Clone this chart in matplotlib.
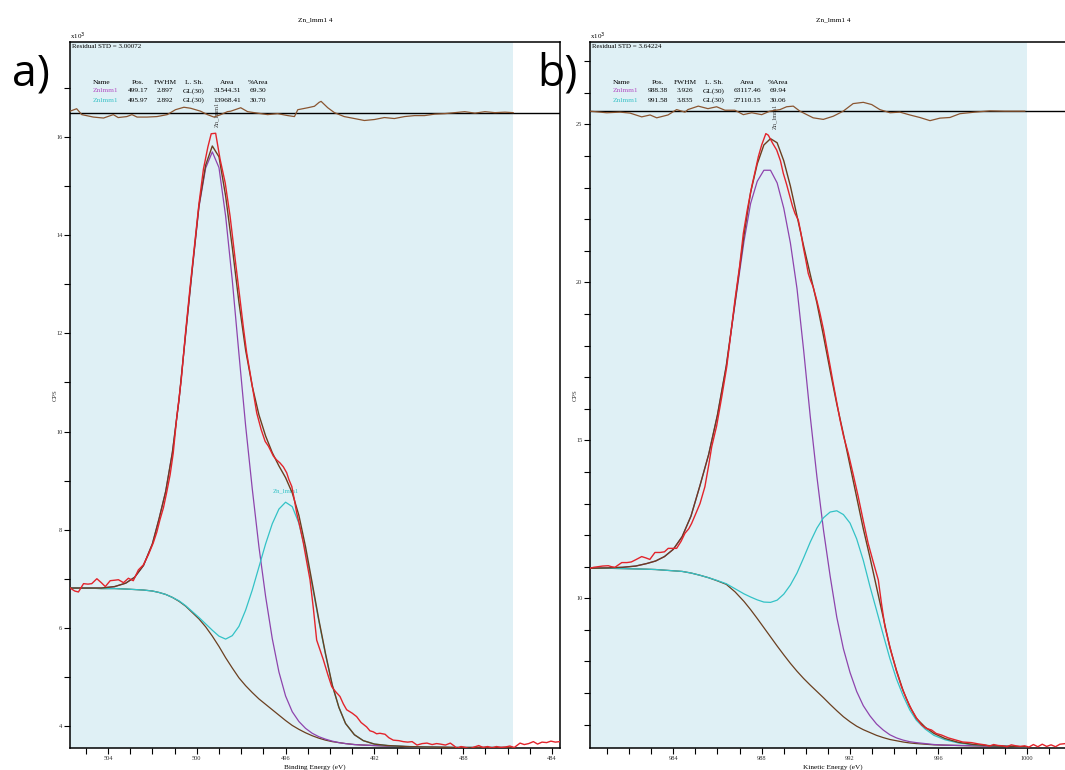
import numpy as np
import matplotlib
matplotlib.use("Agg")
from matplotlib import pyplot as plt
from matplotlib.ticker import MultipleLocator

plt.rcParams['font.family'] = ['Liberation Serif', 'DejaVu Serif']

# ---------------- panel a : binding energy ----------------
be_fit = [505.7, 505.0, 504.3, 503.7, 503.2, 502.8, 502.4, 502.0, 501.7, 501.4,
          501.1, 500.8, 500.5, 500.2, 499.9, 499.6, 499.3, 499.0, 498.7, 498.4,
          498.1, 497.8, 497.5, 497.2, 496.9, 496.6, 496.3, 496.0, 495.7, 495.4,
          495.1, 494.8, 494.5, 494.2, 493.9, 493.6, 493.3, 492.9, 492.5, 492.0,
          491.4, 490.6, 489.6, 488.4, 487.2, 485.8]
bg_a = [6.81, 6.81, 6.80, 6.80, 6.79, 6.78, 6.77, 6.75, 6.72, 6.68,
        6.62, 6.54, 6.44, 6.31, 6.18, 6.02, 5.83, 5.62, 5.39, 5.18,
        4.98, 4.82, 4.68, 4.55, 4.44, 4.33, 4.22, 4.11, 4.01, 3.93,
        3.86, 3.80, 3.75, 3.71, 3.68, 3.66, 3.64, 3.62, 3.61, 3.60,
        3.59, 3.58, 3.57, 3.56, 3.56, 3.56]
comp1_a = [6.81, 6.81, 6.81, 6.84, 6.91, 7.03, 7.27, 7.71, 8.22, 8.78,
           9.57, 10.64, 11.99, 13.31, 14.58, 15.37, 15.70, 15.38, 14.39, 13.08,
           11.58, 10.12, 8.83, 7.65, 6.64, 5.78, 5.10, 4.61, 4.29, 4.09,
           3.95, 3.85, 3.78, 3.73, 3.69, 3.66, 3.64, 3.62, 3.61, 3.60,
           3.59, 3.58, 3.57, 3.56, 3.56, 3.56]
comp2_a = [6.81, 6.81, 6.80, 6.80, 6.79, 6.78, 6.77, 6.75, 6.72, 6.68,
           6.62, 6.55, 6.45, 6.33, 6.21, 6.08, 5.95, 5.83, 5.77, 5.84,
           6.03, 6.36, 6.77, 7.24, 7.71, 8.12, 8.42, 8.56, 8.47, 8.13,
           7.56, 6.86, 6.13, 5.45, 4.83, 4.38, 4.05, 3.82, 3.70, 3.63,
           3.60, 3.58, 3.57, 3.56, 3.56, 3.56]
env_a = [6.81, 6.81, 6.81, 6.84, 6.91, 7.03, 7.27, 7.71, 8.22, 8.78,
         9.57, 10.65, 12.00, 13.33, 14.61, 15.43, 15.82, 15.60, 14.80, 13.75,
         12.63, 11.66, 10.92, 10.34, 9.91, 9.57, 9.30, 9.06, 8.75, 8.29,
         7.65, 6.91, 6.16, 5.47, 4.84, 4.38, 4.05, 3.82, 3.70, 3.63,
         3.60, 3.58, 3.57, 3.56, 3.56, 3.56]

be_data = [505.7, 505.5, 505.33, 505.1, 504.9, 504.73, 504.5, 504.3, 504.12, 503.9,
           503.7, 503.53, 503.3, 503.08, 502.86, 502.63, 502.41, 502.18, 501.96, 501.8,
           501.66, 501.5, 501.36, 501.2, 501.06, 500.9, 500.7, 500.5, 500.3, 500.1,
           499.9, 499.7, 499.5, 499.35, 499.15, 498.95, 498.72, 498.5, 498.27, 498.05,
           497.9, 497.75, 497.6, 497.45, 497.3, 497.1, 496.92, 496.77, 496.55, 496.4,
           496.25, 496.1, 495.95, 495.85, 495.72, 495.6, 495.5, 495.35, 495.2, 495.05,
           494.9, 494.75, 494.6, 494.45, 494.3, 494.1, 493.92, 493.75, 493.55, 493.4,
           493.25, 493.0, 492.8, 492.6, 492.35, 492.2, 492.05, 491.9, 491.75, 491.52,
           491.35, 491.15, 490.9, 490.7, 490.5, 490.3, 490.08, 489.85, 489.63, 489.4,
           489.2, 489.03, 488.8, 488.58, 488.4, 488.28, 488.1, 487.9, 487.7, 487.5,
           487.3, 487.1, 486.9, 486.7, 486.5, 486.3, 486.1, 485.9, 485.7, 485.44,
           485.25, 485.05, 484.84, 484.65, 484.45, 484.24, 484.05, 483.85, 483.65]
cps_a = [6.81, 6.75, 6.73, 6.90, 6.89, 6.90, 7.00, 6.92, 6.84, 6.96,
         6.97, 6.98, 6.92, 7.01, 6.96, 7.18, 7.28, 7.49, 7.73, 7.95,
         8.20, 8.45, 8.75, 9.12, 9.56, 10.30, 11.05, 12.05, 12.95, 13.80,
         14.65, 15.35, 15.80, 16.07, 16.08, 15.55, 15.07, 14.39, 13.51, 12.69,
         12.12, 11.60, 11.20, 10.79, 10.38, 10.04, 9.80, 9.70, 9.50, 9.42,
         9.36, 9.28, 9.16, 9.02, 8.88, 8.60, 8.34, 8.05, 7.73, 7.35,
         6.98, 6.40, 5.75, 5.55, 5.35, 5.05, 4.80, 4.70, 4.60, 4.45,
         4.33, 4.26, 4.19, 4.07, 3.98, 3.90, 3.88, 3.84, 3.85, 3.83,
         3.76, 3.71, 3.70, 3.68, 3.67, 3.68, 3.61, 3.64, 3.65, 3.62,
         3.64, 3.63, 3.61, 3.65, 3.59, 3.54, 3.58, 3.56, 3.53, 3.57,
         3.60, 3.56, 3.58, 3.55, 3.58, 3.56, 3.57, 3.59, 3.56, 3.65,
         3.62, 3.64, 3.68, 3.63, 3.67, 3.66, 3.69, 3.67, 3.68]

res_be = [505.71, 505.41, 505.18, 504.66, 504.2, 503.76, 503.54, 503.15, 502.92, 502.69,
          502.24, 501.79, 501.33, 500.96, 500.58, 500.28, 499.83, 499.52, 499.23, 498.92,
          498.62, 498.47, 498.02, 497.71, 497.26, 496.81, 496.36, 495.9, 495.6, 495.45,
          495.0, 494.7, 494.49, 494.4, 494.1, 493.8, 493.36, 492.9, 492.45, 492.0,
          491.55, 491.1, 490.64, 490.19, 489.74, 489.28, 488.83, 488.38, 487.93, 487.47,
          487.02, 486.57, 486.12, 485.75]
res_a = [0.03, 0.08, -0.04, -0.09, -0.11, -0.04, -0.10, -0.08, -0.04, -0.09,
         -0.09, -0.08, -0.04, 0.06, 0.11, 0.09, 0.03, -0.04, -0.09, -0.04,
         0.02, 0.03, 0.10, 0.02, -0.01, -0.04, -0.02, -0.06, -0.08, 0.06,
         0.10, 0.13, 0.21, 0.23, 0.10, 0.0, -0.08, -0.12, -0.16, -0.14,
         -0.10, -0.12, -0.08, -0.06, -0.06, -0.03, -0.02, 0.0, 0.02, -0.01,
         0.02, 0.0, 0.01, 0.0]

# ---------------- panel b : kinetic energy ----------------
ke_fit = [980.2, 981.0, 981.7, 982.3, 982.8, 983.2, 983.6, 984.0, 984.4, 984.8,
          985.2, 985.6, 986.0, 986.4, 986.8, 987.2, 987.5, 987.8, 988.1, 988.4,
          988.7, 989.0, 989.3, 989.6, 989.9, 990.2, 990.5, 990.8, 991.1, 991.4,
          991.7, 992.0, 992.3, 992.6, 992.9, 993.2, 993.5, 993.8, 994.1, 994.4,
          994.7, 995.0, 995.4, 995.8, 996.3, 996.9, 997.6, 998.4, 999.2, 1000.0]
bg_b = [10.95, 10.95, 10.94, 10.93, 10.92, 10.91, 10.89, 10.87, 10.85, 10.80,
        10.73, 10.65, 10.55, 10.44, 10.20, 9.90, 9.64, 9.36, 9.07, 8.78,
        8.49, 8.21, 7.94, 7.69, 7.46, 7.25, 7.05, 6.85, 6.64, 6.44,
        6.25, 6.09, 5.95, 5.84, 5.75, 5.66, 5.59, 5.53, 5.49, 5.45,
        5.42, 5.40, 5.38, 5.36, 5.35, 5.34, 5.33, 5.32, 5.31, 5.30]
comp1_b = [10.95, 10.96, 10.98, 11.02, 11.10, 11.18, 11.32, 11.55, 11.95, 12.60,
           13.55, 14.55, 15.80, 17.35, 19.35, 21.30, 22.50, 23.20, 23.55, 23.55,
           23.15, 22.35, 21.25, 19.80, 17.85, 15.75, 13.85, 12.15, 10.70, 9.40,
           8.40, 7.65, 7.05, 6.60, 6.28, 6.02, 5.83, 5.68, 5.58, 5.51,
           5.46, 5.43, 5.40, 5.37, 5.35, 5.34, 5.33, 5.32, 5.31, 5.30]
comp2_b = [10.95, 10.95, 10.94, 10.93, 10.92, 10.91, 10.89, 10.87, 10.85, 10.80,
           10.73, 10.65, 10.56, 10.46, 10.30, 10.14, 10.04, 9.95, 9.88, 9.87,
           9.94, 10.13, 10.42, 10.80, 11.28, 11.78, 12.22, 12.55, 12.73, 12.77,
           12.65, 12.38, 11.88, 11.20, 10.38, 9.62, 8.85, 8.10, 7.45, 6.92,
           6.47, 6.14, 5.86, 5.66, 5.52, 5.42, 5.36, 5.33, 5.31, 5.30]
env_b = [10.95, 10.96, 10.98, 11.02, 11.10, 11.18, 11.32, 11.55, 11.95, 12.60,
         13.55, 14.55, 15.81, 17.37, 19.40, 21.50, 22.85, 23.75, 24.35, 24.55,
         24.42, 23.85, 23.05, 22.10, 21.15, 20.25, 19.35, 18.30, 17.20, 16.15,
         15.20, 14.20, 13.20, 12.20, 11.30, 10.35, 9.40, 8.45, 7.72, 7.08,
         6.58, 6.20, 5.92, 5.72, 5.56, 5.44, 5.37, 5.33, 5.31, 5.30]

ke_data = [980.23, 980.4, 980.6, 980.8, 981.06, 981.2, 981.36, 981.5, 981.67, 981.9,
           982.1, 982.3, 982.57, 982.75, 982.94, 983.17, 983.4, 983.6, 983.77, 983.95,
           984.15, 984.35, 984.53, 984.7, 984.83, 985.0, 985.21, 985.43, 985.6, 985.74,
           985.96, 986.2, 986.42, 986.6, 986.79, 987.0, 987.17, 987.35, 987.55, 987.7,
           987.85, 988.0, 988.19, 988.3, 988.5, 988.68, 988.85, 988.98, 989.13, 989.28,
           989.4, 989.51, 989.66, 989.78, 989.88, 990.0, 990.11, 990.22, 990.33, 990.5,
           990.64, 990.8, 990.94, 991.1, 991.24, 991.4, 991.55, 991.7, 991.92, 992.15,
           992.37, 992.6, 992.82, 993.05, 993.28, 993.42, 993.58, 993.72, 993.88, 994.1,
           994.33, 994.55, 994.79, 995.0, 995.24, 995.45, 995.69, 995.9, 996.14, 996.45,
           996.75, 997.1, 997.5, 997.8, 998.1, 998.3, 998.5, 998.7, 998.9, 999.1,
           999.3, 999.5, 999.7, 999.9, 1000.1, 1000.3, 1000.5, 1000.7, 1000.9, 1001.1,
           1001.3, 1001.5, 1001.75]
cps_b = [10.95, 10.98, 11.00, 11.02, 11.03, 11.00, 10.98, 11.05, 11.13, 11.13,
         11.15, 11.22, 11.32, 11.28, 11.23, 11.45, 11.45, 11.47, 11.58, 11.58,
         11.58, 11.80, 12.06, 12.20, 12.37, 12.65, 13.00, 13.53, 14.20, 14.80,
         15.45, 16.40, 17.33, 18.35, 19.44, 20.50, 21.55, 22.30, 23.03, 23.50,
         23.98, 24.35, 24.71, 24.66, 24.40, 24.19, 23.85, 23.45, 23.10, 22.71,
         22.40, 22.18, 21.97, 21.55, 21.13, 20.70, 20.28, 20.05, 19.86, 19.42,
         19.02, 18.50, 17.96, 17.35, 16.80, 16.20, 15.64, 15.15, 14.59, 13.90,
         13.22, 12.45, 11.74, 11.15, 10.58, 9.85, 9.10, 8.70, 8.26, 7.70,
         7.20, 6.82, 6.47, 6.22, 5.99, 5.88, 5.83, 5.72, 5.67, 5.58,
         5.52, 5.45, 5.43, 5.39, 5.36, 5.32, 5.37, 5.34, 5.33, 5.30,
         5.36, 5.33, 5.31, 5.33, 5.29, 5.37, 5.30, 5.38, 5.31, 5.36,
         5.30, 5.38, 5.40]

res_ke = [980.23, 980.99, 981.59, 982.04, 982.57, 982.95, 983.25, 983.76, 984.15, 984.53,
          984.66, 985.13, 985.57, 985.96, 986.34, 986.79, 987.17, 987.55, 988.0, 988.37,
          988.83, 989.13, 989.43, 989.73, 990.33, 990.79, 991.24, 991.69, 992.14, 992.6,
          992.98, 993.35, 993.81, 994.26, 994.71, 995.16, 995.62, 996.07, 996.52, 996.97,
          997.65, 998.33, 999.0, 999.91]
res_b = [0.0, -0.05, -0.03, -0.06, -0.18, -0.12, -0.21, -0.12, 0.05, -0.03,
         0.05, 0.16, 0.08, 0.14, 0.03, 0.03, -0.11, -0.05, -0.11, 0.0,
         0.05, 0.14, 0.16, 0.0, -0.21, -0.26, -0.16, 0.0, 0.24, 0.28,
         0.21, 0.05, -0.05, -0.03, -0.12, -0.20, -0.30, -0.22, -0.20, -0.08,
         -0.03, 0.01, 0.0, 0.0]

table_head = ["Name", "Pos.", "FWHM", "L. Sh.", "Area", "%Area"]
table_a = [["Znlmm1", "499.17", "2.897", "GL(30)", "31544.31", "69.30"],
           ["Znlmm1", "495.97", "2.892", "GL(30)", "13968.41", "30.70"]]
table_b = [["Znlmm1", "988.38", "3.926", "GL(30)", "63117.46", "69.94"],
           ["Znlmm1", "991.58", "3.835", "GL(30)", "27110.15", "30.06"]]
resid_std = ["3.00072", "3.64224"]

# colours
shade = '#dff0f5'
red = '#e3242b'
brown = '#6b3f1f'
resbrown = '#8a5530'
purple = '#8e44ad'
cyan = '#33c2c6'
name_cols = ['#b34fc4', '#3cc3c8']

W, H = 1065, 770
fig = plt.figure(figsize=(W / 100, H / 100), dpi=100)


def px(x, y):
    return x / W, 1 - y / H


def style_axes(ax):
    for s in ax.spines.values():
        s.set_linewidth(1.1)
        s.set_color('black')
    ax.tick_params(which='both', direction='out', length=4, width=0.8,
                   labelsize=4.6, pad=1.5, colors='black', labelcolor='#333333')
    ax.tick_params(axis='x', pad=2)


def draw_panel(ax, xf, bg, c1, c2, env, xd, yd, xr, rr, res_base, shade_lim):
    ax.axvspan(shade_lim[0], shade_lim[1], color=shade, lw=0, zorder=0)
    ax.plot(xf, bg, color=brown, lw=0.9, zorder=2)
    ax.plot(xf, c1, color=purple, lw=0.9, zorder=3)
    ax.plot(xf, c2, color=cyan, lw=0.9, zorder=3)
    ax.plot(xf, env, color=brown, lw=1.0, zorder=4)
    ax.plot(xd, yd, color=red, lw=1.0, zorder=5)
    ax.axhline(res_base, color='black', lw=1.0, zorder=6)
    ax.plot(xr, np.array(rr) + res_base, color=resbrown, lw=0.9, zorder=7)


# ---- panel a
ax1 = fig.add_axes([70 / W, 22 / H, 490 / W, 706 / H])
draw_panel(ax1, be_fit, bg_a, comp1_a, comp2_a, env_a, be_data, cps_a,
           res_be, res_a, 16.50, (505.71, 485.75))
ax1.set_xlim(505.71, 483.64)
ax1.set_ylim(3.55, 17.94)
ax1.xaxis.set_major_locator(MultipleLocator(4))
ax1.xaxis.set_minor_locator(MultipleLocator(1))
ax1.yaxis.set_major_locator(MultipleLocator(2))
ax1.yaxis.set_minor_locator(MultipleLocator(1))
style_axes(ax1)

# ---- panel b
ax2 = fig.add_axes([590 / W, 22 / H, 475 / W, 706 / H])
draw_panel(ax2, ke_fit, bg_b, comp1_b, comp2_b, env_b, ke_data, cps_b,
           res_ke, res_b, 25.42, (980.23, 1000.0))
ax2.set_xlim(980.23, 1001.73)
ax2.set_ylim(5.26, 27.61)
ax2.xaxis.set_major_locator(MultipleLocator(4))
ax2.xaxis.set_minor_locator(MultipleLocator(1))
ax2.yaxis.set_major_locator(MultipleLocator(5))
ax2.yaxis.set_minor_locator(MultipleLocator(1))
style_axes(ax2)
ax2.spines['right'].set_visible(False)

# ---- texts around the panels
col_x = [93, 138, 165, 194, 227, 258]
col_ha = ['left', 'center', 'center', 'center', 'center', 'center']
panels = [(0, table_a, resid_std[0], 315, "Binding Energy (eV)", "a)", 31, 70),
          (520, table_b, resid_std[1], 833, "Kinetic Energy (eV)", "b)", 557, 590)]
for dx, rows, std, cx, xlab, letter, lx, x0 in panels:
    fig.text(*px(cx, 20), "Zn_lmm1 4", ha='center', va='center', fontsize=5.2)
    fig.text(*px(cx, 767), xlab, ha='center', va='center', fontsize=5.2)
    fig.text(*px(x0 - 15, 395), "CPS", ha='center', va='center',
             rotation=90, fontsize=4.8, color='#333333')
    fig.text(*px(x0, 36), r"x10$^{3}$", ha='left', va='center', fontsize=5)
    fig.text(*px(x0 + 2, 46), "Residual STD = " + std, ha='left', va='center',
             fontsize=5)
    for j, h in enumerate(table_head):
        fig.text(*px(col_x[j] + dx, 82), h, ha=col_ha[j], va='center', fontsize=5.3)
    for i, row in enumerate(rows):
        for j, v in enumerate(row):
            c = name_cols[i] if j == 0 else 'black'
            fig.text(*px(col_x[j] + dx, 91 + 9 * i), v, ha=col_ha[j], va='center',
                     fontsize=5.3, color=c)
    fig.text(*px(lx, 74), letter, ha='center', va='center', fontsize=32,
             family='Open Sans')

# component labels
ax1.text(499.12, 16.2, "Zn_lmm1", rotation=90, ha='center', va='bottom',
         fontsize=4.6, color='#444444')
ax1.text(495.97, 8.75, "Zn_lmm1", ha='center', va='bottom', fontsize=4.8, color=cyan)
ax2.text(988.6, 24.85, "Zn_lmm1", rotation=90, ha='center', va='bottom',
         fontsize=4.6, color='#444444')

fig.savefig('out.png', dpi=100)
